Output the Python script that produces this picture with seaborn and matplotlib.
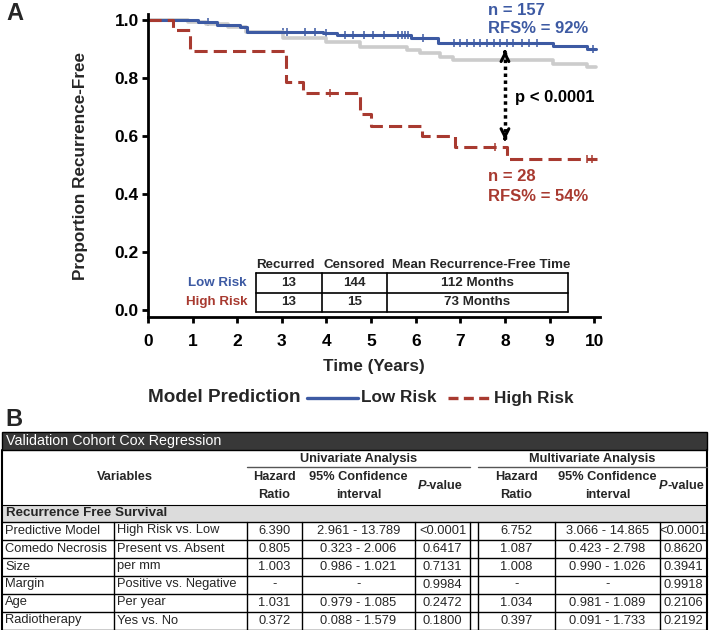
import matplotlib
matplotlib.use("Agg")
import matplotlib.pyplot as plt
import numpy as np
import seaborn as sns
from matplotlib.patches import Rectangle

# ---- Kaplan-Meier step data ----
high_t = [0, 0.56, 0.94, 3.09, 3.48, 4.75, 5.0, 6.13, 6.88, 8.05, 10.06]
high_s = [1.0, 0.964, 0.893, 0.786, 0.75, 0.675, 0.634, 0.60, 0.563, 0.52, 0.52]
high_cens = [4.08, 7.78, 9.84, 9.95]

low_t = [0, 1.12, 1.54, 2.06, 2.21, 3.93, 4.23, 5.9, 6.5, 9.08, 9.84, 10.05]
low_s = [1.0, 0.993, 0.983, 0.975, 0.96, 0.954, 0.948, 0.937, 0.922, 0.910, 0.90, 0.90]
low_cens = [1.35, 3.03, 3.11, 3.52, 3.74, 4.0, 4.42, 4.6, 4.83, 5.05, 5.28, 5.61, 5.69,
            5.76, 5.83, 6.17, 6.85, 7.0, 7.15, 7.3, 7.45, 7.6, 7.75, 7.9, 8.04, 8.19,
            8.38, 8.53, 8.71, 9.98]

all_t = [0, 0.9, 1.3, 1.8, 2.2, 3.03, 4.0, 4.75, 5.8, 6.1, 6.55, 6.84, 9.08, 9.84, 10.05]
all_s = [1.0, 0.993, 0.985, 0.975, 0.957, 0.937, 0.925, 0.908, 0.897, 0.885, 0.873,
         0.862, 0.848, 0.837, 0.837]

# ---- inset table ----
groups = ["Low Risk", "High Risk"]
recurred = [13, 13]
censored = [144, 15]
mean_rft = ["112 Months", "73 Months"]

# ---- Cox regression table ----
variables = ["Predictive Model", "Comedo Necrosis", "Size", "Margin", "Age", "Radiotherapy"]
comparisons = ["High Risk vs. Low", "Present vs. Absent", "per mm",
               "Positive vs. Negative", "Per year", "Yes vs. No"]
uni_hr = ["6.390", "0.805", "1.003", "-", "1.031", "0.372"]
uni_ci = ["2.961 - 13.789", "0.323 - 2.006", "0.986 - 1.021", "-", "0.979 - 1.085", "0.088 - 1.579"]
uni_p = ["<0.0001", "0.6417", "0.7131", "0.9984", "0.2472", "0.1800"]
multi_hr = ["6.752", "1.087", "1.008", "-", "1.034", "0.397"]
multi_ci = ["3.066 - 14.865", "0.423 - 2.798", "0.990 - 1.026", "-", "0.981 - 1.089", "0.091 - 1.733"]
multi_p = ["<0.0001", "0.8620", "0.3941", "0.9918", "0.2106", "0.2192"]

BLUE = "#3d5aa3"
RED = "#a83a30"
GRAY = "#cccccc"

sns.set_style("white")
plt.rcParams["font.family"] = ["Liberation Sans", "DejaVu Sans"]


def surv_at(times, steps, surv):
    idx = np.searchsorted(steps, times, side="right") - 1
    return np.asarray(surv)[idx]


fig = plt.figure(figsize=(7.09, 6.30), dpi=100)
W, H = 709, 630
ax = fig.add_axes([148 / W, 1 - 317 / H, (600 - 148) / W, (317 - 14) / H])

sns.lineplot(x=all_t, y=all_s, drawstyle="steps-post", color=GRAY, lw=2.6, ax=ax)
sns.lineplot(x=low_t, y=low_s, drawstyle="steps-post", color=BLUE, lw=2.2, ax=ax)
sns.lineplot(x=high_t, y=high_s, drawstyle="steps-post", color=RED, lw=2.2,
             linestyle=(0, (4.3, 2)), ax=ax)
sns.scatterplot(x=low_cens, y=surv_at(low_cens, low_t, low_s), marker="|", s=35,
                color=BLUE, linewidth=1.1, ax=ax)
sns.scatterplot(x=high_cens, y=surv_at(high_cens, high_t, high_s), marker="|", s=35,
                color=RED, linewidth=1.1, ax=ax)

ax.set_xlim(0, 10.13)
ax.set_ylim(-0.0241, 1.0207)
ax.set_xticks(range(0, 11))
ax.set_yticks([0, 0.2, 0.4, 0.6, 0.8, 1.0])
ax.set_yticklabels(["0.0", "0.2", "0.4", "0.6", "0.8", "1.0"])
for s in ["top", "right"]:
    ax.spines[s].set_visible(False)
for s in ["left", "bottom"]:
    ax.spines[s].set_linewidth(2)
    ax.spines[s].set_color("black")
ax.tick_params(bottom=True, left=True, direction="out", length=4.5, width=2,
               labelsize=12.5, colors="black")
ax.tick_params(axis="x", pad=8)
ax.tick_params(axis="y", pad=2)
for lab in ax.get_xticklabels() + ax.get_yticklabels():
    lab.set_fontweight("bold")
ax.set_xlabel("Time (Years)", fontsize=12.3, fontweight="bold", labelpad=7)
ax.set_ylabel("Proportion Recurrence-Free", fontsize=12.3, fontweight="bold", labelpad=19)

# annotations
fs_ann = 12
ax.text(7.62, 1.034, "n = 157", color=BLUE, fontsize=fs_ann, fontweight="bold", va="center", clip_on=False)
ax.text(7.62, 0.972, "RFS% = 92%", color=BLUE, fontsize=fs_ann, fontweight="bold", va="center")
ax.text(7.62, 0.459, "n = 28", color=RED, fontsize=fs_ann, fontweight="bold", va="center")
ax.text(7.62, 0.39, "RFS% = 54%", color=RED, fontsize=fs_ann, fontweight="bold", va="center")
ax.text(8.23, 0.734, "p < 0.0001", color="black", fontsize=fs_ann, fontweight="bold", va="center")
ax.plot([8.0, 8.0], [0.59, 0.89], color="black", lw=2.5, linestyle=(0, (1, 1)))
ax.annotate("", xy=(8.0, 0.905), xytext=(8.0, 0.88),
            arrowprops=dict(arrowstyle="->", lw=2.2, color="black", mutation_scale=14))
ax.annotate("", xy=(8.0, 0.577), xytext=(8.0, 0.60),
            arrowprops=dict(arrowstyle="->", lw=2.2, color="black", mutation_scale=14))

# overlay in pixel coordinates for tables / legend
ov = fig.add_axes([0, 0, 1, 1], zorder=5)
ov.set_xlim(0, W)
ov.set_ylim(H, 0)
ov.axis("off")
ov.patch.set_alpha(0)

ov.text(6, 14, "A", fontsize=17, fontweight="bold", va="center", ha="left")
ov.text(5, 420, "B", fontsize=17, fontweight="bold", va="center", ha="left")

# inset table in panel A
ifs = 9.6
cx = [256, 322, 387, 568]
ry = [273, 292.5, 312]
heads = ["Recurred", "Censored", "Mean Recurrence-Free Time"]
head_off = [0, 1, 5]
for i, h in enumerate(heads):
    ov.text(cx[i] + head_off[i], 265, h, fontsize=ifs, fontweight="bold", ha="left", va="center")
for y in ry:
    ov.plot([cx[0], cx[-1]], [y, y], color="black", lw=1.2)
for x in cx:
    ov.plot([x, x], [ry[0], ry[-1]], color="black", lw=1.2)
for r, g in enumerate(groups):
    yc = (ry[r] + ry[r + 1]) / 2
    ov.text(247, yc, g, color=BLUE if r == 0 else RED, fontsize=ifs, fontweight="bold",
            ha="right", va="center")
    vals = [str(recurred[r]), str(censored[r]), mean_rft[r]]
    for i, v in enumerate(vals):
        ov.text((cx[i] + cx[i + 1]) / 2, yc, v, fontsize=ifs, fontweight="bold", ha="center", va="center")

# legend row
ov.text(148, 398, "Model Prediction", fontsize=13.6, fontweight="bold", ha="left", va="center")
ov.plot([307, 358], [398, 398], color=BLUE, lw=2.4)
ov.text(361, 398, "Low Risk", fontsize=12.3, fontweight="bold", ha="left", va="center")
ov.plot([448, 491], [398, 398], color=RED, lw=2.4, linestyle=(0, (3, 1.6)))
ov.text(494, 398, "High Risk", fontsize=12.3, fontweight="bold", ha="left", va="center")

# panel B table
L, R = 2, 707
ov.add_patch(Rectangle((L, 432), R - L, 18, facecolor="#383838", edgecolor="black", lw=1))
ov.text(6, 441, "Validation Cohort Cox Regression", color="white", fontsize=10.3, ha="left", va="center")
ov.add_patch(Rectangle((L, 505), R - L, 16.5, facecolor="#dcdcdc", edgecolor="none"))
ov.text(6, 513, "Recurrence Free Survival", fontsize=9.6, fontweight="bold", ha="left", va="center")

cols = [L, 114, 247, 302, 415, 470, 478, 555, 660, R]
row_top = 521.5
row_h = 18
n = len(variables)
# outer frame
ov.plot([L, L], [450, row_top + n * row_h], color="black", lw=1.5)
ov.plot([R, R], [450, row_top + n * row_h], color="black", lw=1.5)
ov.plot([L, R], [505, 505], color="black", lw=0.8)
for r in range(n + 1):
    y = row_top + r * row_h
    ov.plot([L, R], [y, y], color="black", lw=1)
for x in cols[1:-1]:
    ov.plot([x, x], [row_top, row_top + n * row_h], color="black", lw=1)

hfs = 9.2
ov.text((L + 247) / 2, 477, "Variables", fontsize=hfs, fontweight="bold", ha="center", va="center")
ov.text((cols[2] + cols[5]) / 2, 459, "Univariate Analysis", fontsize=hfs, fontweight="bold", ha="center", va="center")
ov.text((cols[6] + R) / 2, 459, "Multivariate Analysis", fontsize=hfs, fontweight="bold", ha="center", va="center")
ov.plot([cols[2], cols[5]], [467, 467], color="#555555", lw=1)
ov.plot([cols[6], R], [467, 467], color="#555555", lw=1)
for a, b in [(cols[2], cols[3]), (cols[6], cols[7])]:
    ov.text((a + b) / 2, 477, "Hazard", fontsize=hfs, fontweight="bold", ha="center", va="center")
    ov.text((a + b) / 2, 495, "Ratio", fontsize=hfs, fontweight="bold", ha="center", va="center")
for a, b in [(cols[3], cols[4]), (cols[7], cols[8])]:
    ov.text((a + b) / 2, 477, "95% Confidence", fontsize=hfs, fontweight="bold", ha="center", va="center")
    ov.text((a + b) / 2, 495, "interval", fontsize=hfs, fontweight="bold", ha="center", va="center")
for a, b in [(cols[4], cols[5]), (cols[8], R)]:
    mid = (a + b) / 2 - 16
    ov.text(mid, 486, "P", fontsize=hfs, fontweight="bold", style="italic", ha="right", va="center")
    ov.text(mid - 0.5, 486, "-value", fontsize=hfs, fontweight="bold", ha="left", va="center")

bfs = 9.3
for r in range(n):
    yc = row_top + r * row_h + row_h / 2
    ov.text(5, yc, variables[r], fontsize=bfs, ha="left", va="center")
    ov.text(117, yc, comparisons[r], fontsize=bfs, ha="left", va="center")
    cells = [uni_hr[r], uni_ci[r], uni_p[r], None, multi_hr[r], multi_ci[r], multi_p[r]]
    for i, v in enumerate(cells):
        if v is None:
            continue
        a, b = cols[2 + i], cols[3 + i]
        ov.text((a + b) / 2, yc, v, fontsize=bfs, ha="center", va="center")

fig.savefig("out.png", dpi=100)
